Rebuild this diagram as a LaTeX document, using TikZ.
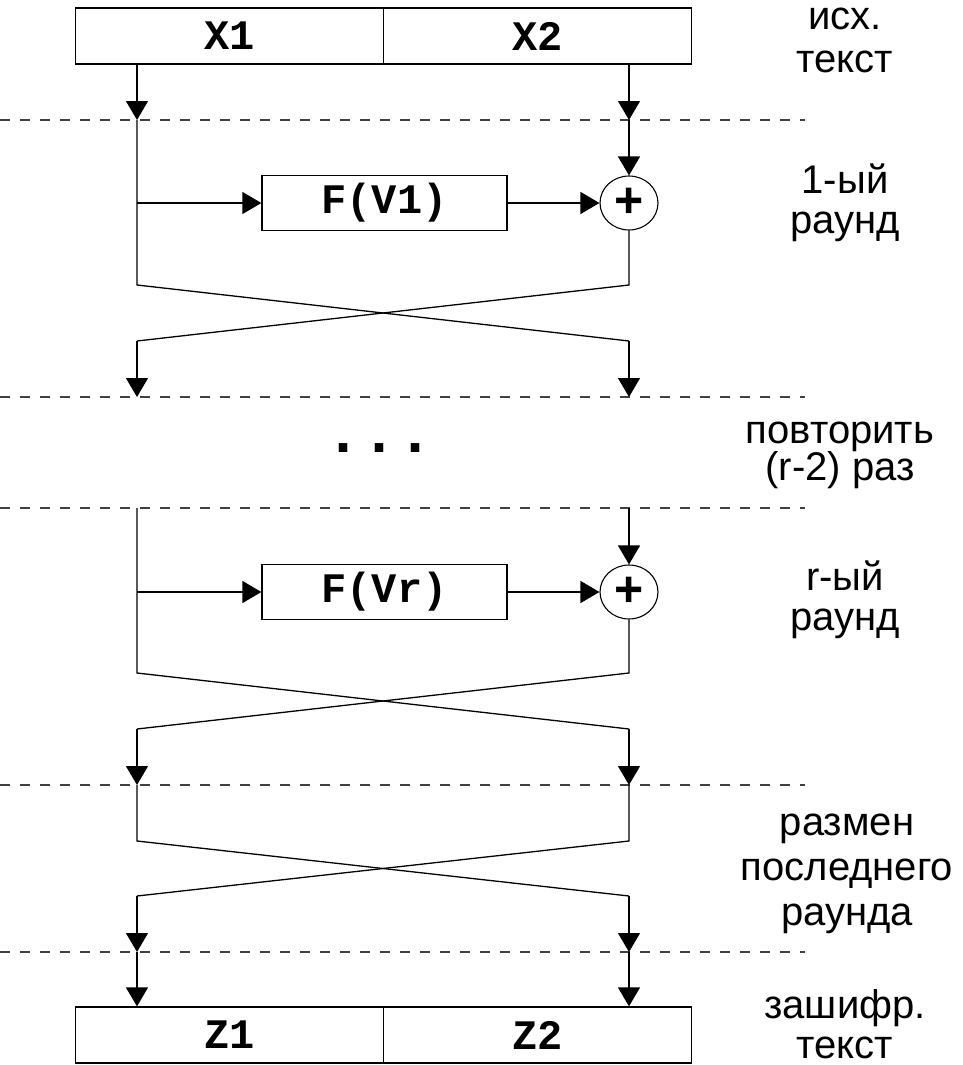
\documentclass[tikz,border=0pt]{standalone}
\usepackage{fontspec}
\setmainfont{Liberation Sans}
\newfontfamily\monof{Liberation Mono}
\usetikzlibrary{arrows.meta,shapes.geometric}
\tikzset{
  wire/.style={line width=1.3pt},
  arr/.style={wire,-{Triangle[width=22pt,length=19pt]}},
  cell/.style={draw,line width=1.3pt,minimum width=308pt,minimum height=56pt,inner sep=0pt,
    font=\monof\bfseries\fontsize{42}{42}\selectfont},
  fbox/.style={draw,line width=1.3pt,minimum width=245pt,minimum height=55pt,inner sep=0pt,
    font=\monof\bfseries\fontsize{42}{42}\selectfont},
  sum/.style={draw,ellipse,line width=1.1pt,minimum width=58pt,minimum height=54pt,inner sep=0pt,
    font=\bfseries\fontsize{50}{50}\selectfont},
  sep/.style={line width=1.2pt,black!75,dash pattern=on 10pt off 10pt},
  lbl/.style={font=\fontsize{40}{44}\selectfont,anchor=base},
}
\begin{document}
\begin{tikzpicture}[x=1pt,y=-1pt]
\useasboundingbox (0,0) rectangle (963,1065);

% separators
\foreach \yy/\nm in {120/a,397/b,508/c,785/d,952/e}{
  \coordinate (s\nm l) at (0,\yy);
  \coordinate (s\nm r) at (805,\yy);
  \draw[sep] (s\nm l) -- (s\nm r);
}

% top and bottom boxes
\node[cell] (x1) at (229.5,36) {X1};
\node[cell] (x2) at (537.5,36) {X2};
\node[cell] (z1) at (229.5,1035) {Z1};
\node[cell] (z2) at (537.5,1035) {Z2};

% round 1
\node[fbox] (f1) at (384.5,203) {F(V1)};
\node[sum] (p1) at (629,203) {+};
% round r
\node[fbox] (fr) at (384.5,592) {F(Vr)};
\node[sum] (pr) at (629,592) {+};

% dots
\node (dots) at (380,448) {\monof\bfseries\fontsize{60}{60}\selectfont ...};

% column coordinates
\coordinate (L1) at (137,120);
\coordinate (R1) at (629,120);
\coordinate (La) at (137,285);
\coordinate (Ra) at (629,285);
\coordinate (Lb) at (137,341);
\coordinate (Rb) at (629,341);
\coordinate (L2) at (137,397);
\coordinate (R2) at (629,397);
\coordinate (L3) at (137,508);
\coordinate (R3) at (629,508);
\coordinate (Lc) at (137,673);
\coordinate (Rc) at (629,673);
\coordinate (Ld) at (137,729);
\coordinate (Rd) at (629,729);
\coordinate (L4) at (137,785);
\coordinate (R4) at (629,785);
\coordinate (Le) at (137,841);
\coordinate (Re) at (629,841);
\coordinate (Lf) at (137,896);
\coordinate (Rf) at (629,896);
\coordinate (L5) at (137,952);
\coordinate (R5) at (629,952);

% input
\draw[arr] (x1.south -| L1) -- (L1);
\draw[arr] (x2.south -| R1) -- (R1);
% round 1
\draw[arr] (R1) -- (p1.north);
\draw[wire] (L1) -- (La) -- (Rb);
\draw[arr] (Rb) -- (R2);
\draw[arr] (f1.west -| L1) -- (f1.west);
\draw[arr] (f1.east) -- (p1.west);
\draw[wire] (p1.south) -- (Ra) -- (Lb);
\draw[arr] (Lb) -- (L2);
% round r
\draw[arr] (R3) -- (pr.north);
\draw[wire] (L3) -- (Lc) -- (Rd);
\draw[arr] (Rd) -- (R4);
\draw[arr] (fr.west -| L3) -- (fr.west);
\draw[arr] (fr.east) -- (pr.west);
\draw[wire] (pr.south) -- (Rc) -- (Ld);
\draw[arr] (Ld) -- (L4);
% last swap
\draw[wire] (L4) -- (Le) -- (Rf);
\draw[arr] (Rf) -- (R5);
\draw[wire] (R4) -- (Re) -- (Lf);
\draw[arr] (Lf) -- (L5);
% output
\draw[arr] (L5) -- (z1.north -| L5);
\draw[arr] (R5) -- (z2.north -| R5);

% labels
\node[lbl] (t1) at (845,30) {исх.};
\node[lbl] (t2) at (845,72) {текст};
\node[lbl] (t3) at (845,193) {1-ый};
\node[lbl] (t4) at (845,233) {раунд};
\node[lbl] (t5) at (840,443) {повторить};
\node[lbl] (t6) at (840,480) {(r-2) раз};
\node[lbl] (t7) at (845,590) {r-ый};
\node[lbl] (t8) at (845,630) {раунд};
\node[lbl] (t9) at (847,835) {размен};
\node[lbl] (t10) at (847,880) {последнего};
\node[lbl] (t11) at (847,925) {раунда};
\node[lbl] (t12) at (845,1018) {зашифр.};
\node[lbl] (t13) at (845,1058) {текст};
\end{tikzpicture}
\end{document}
